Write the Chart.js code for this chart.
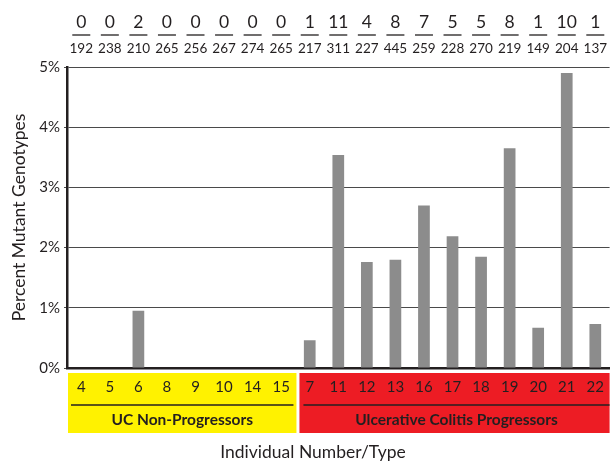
<!DOCTYPE html>
<html>
<head>
<meta charset="utf-8">
<script src="https://cdn.jsdelivr.net/npm/chart.js@4"></script>
<style>
  html, body { margin: 0; padding: 0; background: #fff; }
  #wrap { width: 614px; height: 464px; }
</style>
</head>
<body>
<div id="wrap"><canvas id="c" width="614" height="464"></canvas></div>
<script>
const categories = ['4','5','6','8','9','10','14','15','7','11','12','13','16','17','18','19','20','21','22'];
const mutantPercent = [0,0,0.95,0,0,0,0,0,0.46,3.54,1.76,1.80,2.70,2.19,1.85,3.65,0.67,4.90,0.73];
const mutantCounts = [0,0,2,0,0,0,0,0,1,11,4,8,7,5,5,8,1,10,1];
const genotypeTotals = [192,238,210,265,256,267,274,265,217,311,227,445,259,228,270,219,149,204,137];
const groupLabels = ['UC Non-Progressors','Ulcerative Colitis Progressors'];
const groupStart = [0, 8];
const groupEnd = [7, 18];
const groupColors = ['#FFF200', '#ED1C24'];
const yTickValues = [0,1,2,3,4,5];

const FONT = 'Lato, "Open Sans", sans-serif';
const INK = '#231F20';

const overlay = {
  id: 'overlay',
  beforeDraw(chart) {
    const ctx = chart.ctx, x = chart.scales.x, area = chart.chartArea;
    const half = (x.getPixelForValue(1) - x.getPixelForValue(0)) / 2;
    ctx.save();
    for (let g = 0; g < groupLabels.length; g++) {
      let l = x.getPixelForValue(groupStart[g]) - half + (g === 0 ? 1 : 4);
      let r = x.getPixelForValue(groupEnd[g]) + half + (g === 0 ? 1 : 0);
      ctx.fillStyle = groupColors[g];
      ctx.fillRect(l, area.bottom + 5, r - l, 60);
    }
    ctx.restore();
  },
  afterDraw(chart) {
    const ctx = chart.ctx, x = chart.scales.x;
    const half = (x.getPixelForValue(1) - x.getPixelForValue(0)) / 2;
    ctx.save();
    ctx.fillStyle = INK;
    ctx.strokeStyle = INK;
    ctx.textAlign = 'center';
    ctx.textBaseline = 'middle';
    for (let i = 0; i < categories.length; i++) {
      const cx = x.getPixelForValue(i);
      ctx.font = '17.5px ' + FONT;
      ctx.fillText(String(mutantCounts[i]), cx, 22);
      ctx.lineWidth = 1.3;
      ctx.beginPath();
      ctx.moveTo(cx - 9, 35); ctx.lineTo(cx + 9, 35);
      ctx.stroke();
      ctx.font = '13.5px ' + FONT;
      ctx.fillText(String(genotypeTotals[i]), cx, 48.5);
    }
    for (let g = 0; g < groupLabels.length; g++) {
      let l = x.getPixelForValue(groupStart[g]) - half + (g === 0 ? 4 : 8);
      let r = x.getPixelForValue(groupEnd[g]) + half - (g === 0 ? 2 : 0);
      ctx.lineWidth = 1.6;
      ctx.beginPath();
      ctx.moveTo(l, 405); ctx.lineTo(r, 405);
      ctx.stroke();
      ctx.font = 'bold 15.5px ' + FONT;
      ctx.fillText(groupLabels[g], (l + r) / 2, 420);
    }
    ctx.font = '17.5px ' + FONT;
    ctx.fillText('Individual Number/Type', 313, 452);
    ctx.restore();
  }
};

new Chart(document.getElementById('c'), {
  type: 'bar',
  data: {
    labels: categories,
    datasets: [{
      data: mutantPercent,
      backgroundColor: '#8C8C8C',
      borderWidth: 0,
      barPercentage: 0.41,
      categoryPercentage: 1.0
    }]
  },
  options: {
    responsive: false,
    animation: false,
    devicePixelRatio: 1,
    layout: { padding: { top: 67, right: 0, left: 0, bottom: 0 } },
    plugins: { legend: { display: false }, tooltip: { enabled: false } },
    scales: {
      x: {
        grid: { display: false, drawTicks: false },
        border: { display: true, color: INK, width: 2.5 },
        ticks: { color: INK, font: { family: FONT, size: 15 }, padding: 10, autoSkip: false, maxRotation: 0 },
        afterFit(s) { s.height = 96; }
      },
      y: {
        min: 0, max: 5,
        afterBuildTicks(s) { s.ticks = yTickValues.map(v => ({ value: v })); },
        grid: { color: '#4a4a4a', lineWidth: 1, tickLength: 3 },
        border: { display: true, color: INK, width: 2.5 },
        ticks: { color: INK, font: { family: FONT, size: 15 }, padding: 4, callback: v => v + '%' },
        title: { display: true, text: 'Percent Mutant Genotypes', color: INK, font: { family: FONT, size: 17.5 }, padding: { top: 9, bottom: 0 } },
        afterFit(s) { s.width = 67; }
      }
    }
  },
  plugins: [overlay]
});
</script>
</body>
</html>
